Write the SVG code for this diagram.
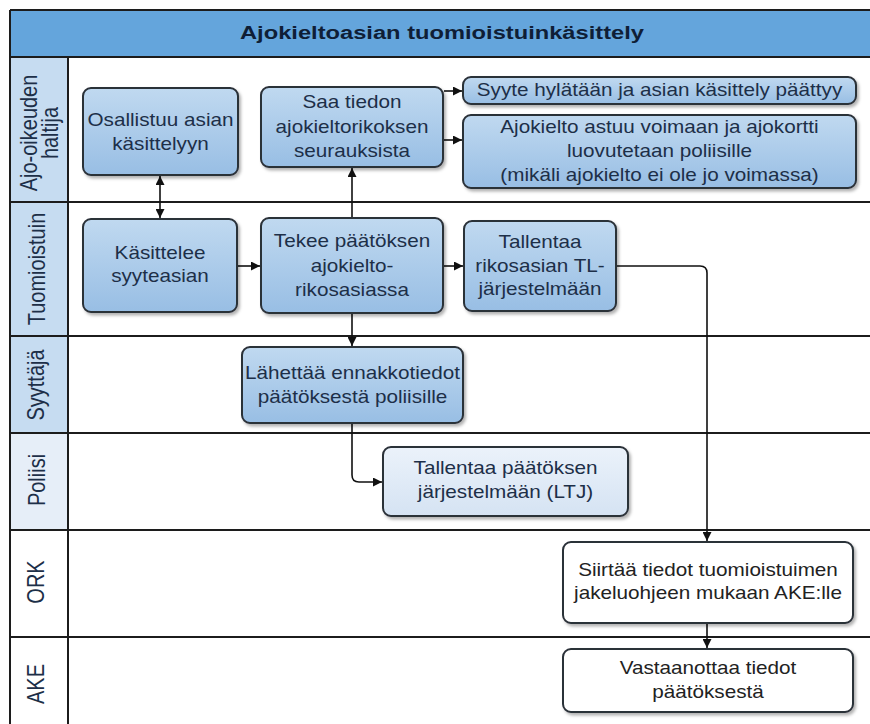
<svg xmlns="http://www.w3.org/2000/svg" width="870" height="724" viewBox="0 0 870 724">
  <defs>
    <linearGradient id="gBlue" x1="0" y1="0" x2="0" y2="1">
      <stop offset="0" stop-color="#c0d9f0"/>
      <stop offset="1" stop-color="#98bee4"/>
    </linearGradient>
    <linearGradient id="gPale" x1="0" y1="0" x2="0" y2="1">
      <stop offset="0" stop-color="#ebf2fa"/>
      <stop offset="1" stop-color="#d5e3f3"/>
    </linearGradient>
    <filter id="shadow" x="-10%" y="-10%" width="125%" height="130%">
      <feDropShadow dx="2" dy="2.5" stdDeviation="1.5" flood-color="#000" flood-opacity="0.3"/>
    </filter>
    <marker id="arrow" viewBox="0 0 10 10" refX="10" refY="5" markerWidth="9" markerHeight="9" markerUnits="userSpaceOnUse" orient="auto-start-reverse">
      <path d="M0,0 L10,5 L0,10 z" fill="#111"/>
    </marker>
    <style>
      .lane-line { stroke: #1c1c1c; stroke-width: 2; fill: none; }
      .node { stroke: #2a3038; stroke-width: 2; filter: url(#shadow); }
      .blue { fill: url(#gBlue); }
      .pale { fill: url(#gPale); }
      .white { fill: #ffffff; }
      .t { font-family: "Liberation Sans", Arial, sans-serif; font-size: 18px; fill: #1d2f48; text-anchor: middle; }
      .tw { font-family: "Liberation Sans", Arial, sans-serif; font-size: 18px; fill: #222; text-anchor: middle; }
      .lane { font-family: "Liberation Sans", Arial, sans-serif; font-size: 20px; fill: #1d2f48; text-anchor: middle; }
      .title { font-family: "Liberation Sans", Arial, sans-serif; font-size: 18px; font-weight: bold; fill: #0f1e36; text-anchor: middle; }
      .conn { stroke: #111; stroke-width: 1.6; fill: none; marker-end: url(#arrow); }
    </style>
  </defs>

  <rect x="0" y="0" width="870" height="724" fill="#ffffff"/>

  <!-- lane header column -->
  <g id="lane-headers">
    <rect x="10" y="57" width="58" height="145" fill="#c6dcf1"/>
    <rect x="10" y="202" width="58" height="134" fill="#c6dcf1"/>
    <rect x="10" y="336" width="58" height="97" fill="#c6dcf1"/>
    <rect x="10" y="433" width="58" height="97" fill="#e6eef8"/>
    <rect x="10" y="530" width="58" height="107" fill="#ffffff"/>
    <rect x="10" y="637" width="58" height="87" fill="#ffffff"/>
    <text class="lane" transform="translate(37,133) rotate(-90) scale(1,1.18)">Ajo-oikeuden</text>
    <text class="lane" transform="translate(58,133) rotate(-90) scale(1,1.18)">haltija</text>
    <text class="lane" transform="translate(45,269) rotate(-90) scale(1,1.18)">Tuomioistuin</text>
    <text class="lane" transform="translate(44,385) rotate(-90) scale(1,1.18)">Syyttäjä</text>
    <text class="lane" transform="translate(45,480) rotate(-90) scale(1,1.18)">Poliisi</text>
    <text class="lane" transform="translate(44,582) rotate(-90) scale(1,1.18)">ORK</text>
    <text class="lane" transform="translate(44,684) rotate(-90) scale(1,1.18)">AKE</text>
  </g>

  <!-- title bar -->
  <g id="title">
    <rect x="10" y="10" width="864" height="47" fill="#64a5dc"/>
    <text class="title" x="442" y="39" textLength="404" lengthAdjust="spacingAndGlyphs">Ajokieltoasian tuomioistuinkäsittely</text>
  </g>

  <!-- pool frame and lane separators -->
  <g id="frame">
    <line class="lane-line" x1="10" y1="10" x2="870" y2="10"/>
    <line class="lane-line" x1="10" y1="10" x2="10" y2="724"/>
    <line class="lane-line" x1="68" y1="57" x2="68" y2="724"/>
    <line class="lane-line" x1="10" y1="57" x2="870" y2="57"/>
    <line class="lane-line" x1="10" y1="202" x2="870" y2="202"/>
    <line class="lane-line" x1="10" y1="336" x2="870" y2="336"/>
    <line class="lane-line" x1="10" y1="433" x2="870" y2="433"/>
    <line class="lane-line" x1="10" y1="530" x2="870" y2="530"/>
    <line class="lane-line" x1="10" y1="637" x2="870" y2="637"/>
  </g>

  <!-- connectors -->
  <g id="connectors">
    <path class="conn" d="M160,176 V218" marker-start="url(#arrow)"/>
    <path class="conn" d="M238,266 H260"/>
    <path class="conn" d="M352,218 V168"/>
    <path class="conn" d="M444,266 H463"/>
    <path class="conn" d="M444,91 H462"/>
    <path class="conn" d="M444,140 H462"/>
    <path class="conn" d="M352,313 V346"/>
    <path class="conn" d="M352,424 V475 Q352,482 359,482 H382"/>
    <path class="conn" d="M617,266 H700 Q707,266 707,273 V541"/>
    <path class="conn" d="M707,624 V648"/>
  </g>

  <!-- nodes -->
  <g id="osallistuu">
    <rect class="node blue" x="83" y="88" width="155" height="87" rx="8"/>
    <text class="t" transform="translate(160.5,126) scale(1.15,1)">Osallistuu asian</text>
    <text class="t" transform="translate(160.5,150) scale(1.15,1)">käsittelyyn</text>
  </g>
  <g id="saa-tiedon">
    <rect class="node blue" x="261" y="87" width="182" height="80" rx="8"/>
    <text class="t" transform="translate(352,108) scale(1.15,1)">Saa tiedon</text>
    <text class="t" transform="translate(352,133) scale(1.15,1)">ajokieltorikoksen</text>
    <text class="t" transform="translate(352,157) scale(1.15,1)">seurauksista</text>
  </g>
  <g id="syyte-hylataan">
    <rect class="node blue" x="463" y="77" width="393" height="27" rx="8"/>
    <text class="t" transform="translate(659.5,96) scale(1.15,1)">Syyte hylätään ja asian käsittely päättyy</text>
  </g>
  <g id="ajokielto-voimaan">
    <rect class="node blue" x="463" y="115" width="393" height="73" rx="8"/>
    <text class="t" transform="translate(659.5,133) scale(1.15,1)">Ajokielto astuu voimaan ja ajokortti</text>
    <text class="t" transform="translate(659.5,157) scale(1.15,1)">luovutetaan poliisille</text>
    <text class="t" transform="translate(659.5,181) scale(1.15,1)">(mikäli ajokielto ei ole jo voimassa)</text>
  </g>
  <g id="kasittelee">
    <rect class="node blue" x="83" y="219" width="154" height="93" rx="8"/>
    <text class="t" transform="translate(160,259) scale(1.15,1)">Käsittelee</text>
    <text class="t" transform="translate(160,282) scale(1.15,1)">syyteasian</text>
  </g>
  <g id="tekee-paatoksen">
    <rect class="node blue" x="261" y="218" width="182" height="95" rx="8"/>
    <text class="t" transform="translate(352,247) scale(1.15,1)">Tekee päätöksen</text>
    <text class="t" transform="translate(352,272) scale(1.15,1)">ajokielto-</text>
    <text class="t" transform="translate(352,296) scale(1.15,1)">rikosasiassa</text>
  </g>
  <g id="tallentaa-tl">
    <rect class="node blue" x="464" y="221" width="152" height="90" rx="8"/>
    <text class="t" transform="translate(540,248) scale(1.15,1)">Tallentaa</text>
    <text class="t" transform="translate(540,272) scale(1.15,1)">rikosasian TL-</text>
    <text class="t" transform="translate(540,295) scale(1.15,1)">järjestelmään</text>
  </g>
  <g id="lahettaa">
    <rect class="node blue" x="242" y="347" width="221" height="76" rx="8"/>
    <text class="t" transform="translate(352.5,379) scale(1.15,1)">Lähettää ennakkotiedot</text>
    <text class="t" transform="translate(352.5,403) scale(1.15,1)">päätöksestä poliisille</text>
  </g>
  <g id="tallentaa-ltj">
    <rect class="node pale" x="383" y="447" width="245" height="69" rx="8"/>
    <text class="t" transform="translate(505.5,474) scale(1.15,1)">Tallentaa päätöksen</text>
    <text class="t" transform="translate(505.5,498) scale(1.15,1)">järjestelmään (LTJ)</text>
  </g>
  <g id="siirtaa">
    <rect class="node white" x="563" y="542" width="290" height="81" rx="8"/>
    <text class="tw" transform="translate(708,576) scale(1.15,1)">Siirtää tiedot tuomioistuimen</text>
    <text class="tw" transform="translate(708,599) scale(1.15,1)">jakeluohjeen mukaan AKE:lle</text>
  </g>
  <g id="vastaanottaa">
    <rect class="node white" x="563" y="649" width="290" height="63" rx="8"/>
    <text class="tw" transform="translate(708,674) scale(1.15,1)">Vastaanottaa tiedot</text>
    <text class="tw" transform="translate(708,698) scale(1.15,1)">päätöksestä</text>
  </g>
</svg>
